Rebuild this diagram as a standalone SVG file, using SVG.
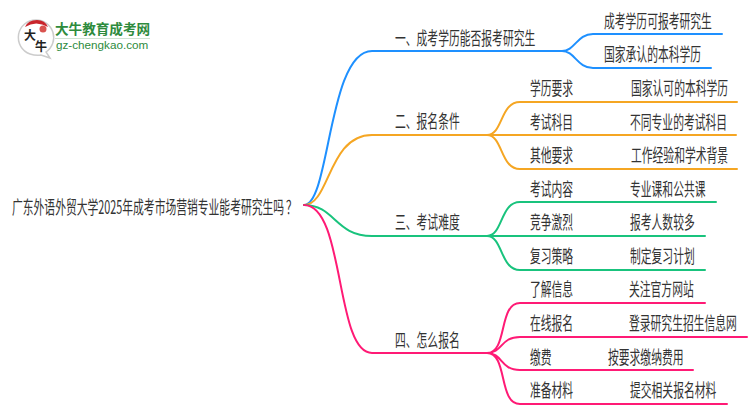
<svg xmlns="http://www.w3.org/2000/svg" width="750" height="410" viewBox="0 0 750 410">
<style>
text{font-family:"Noto Sans CJK SC","Noto Sans",sans-serif;font-size:18px;fill:#333}
.c{fill:none;stroke-width:2;stroke-linecap:round}
.b{stroke:#1e90ff}.o{stroke:#f5a623}.g{stroke:#19c37d}.p{stroke:#ff1a75}
</style>
<rect width="750" height="410" fill="#fff"/>
<g id="logo">
<path d="M36 20a17.500 17.500 0 0 0-6 34q6 2 11 1l9 3-4-6a17.500 17.500 0 0 0-10-32z" fill="#fff" stroke="#ccc" stroke-width="1.500"/>
<path d="M25 27q11-7 23 0-3-7-11-7-9 0-12 7z" fill="#c9242b"/>
<circle cx="43" cy="29" r="3.500" fill="#d9534f"/>
<text x="24" y="40" style="font-size:12px;fill:#222" font-weight="700">大</text>
<text x="35" y="51" style="font-size:12px;fill:#222" font-weight="700">牛</text>
<text x="55" y="33.500" style="font-size:13.600px;fill:#2e8b3d" font-weight="700">大牛教育成考网</text>
<path d="M55 38.500H150" stroke="#cfe3d2" stroke-width="1"/>
<text x="56" y="48.500" style="font-size:11.700px;fill:#2e8b3d;font-family:'Liberation Sans',sans-serif">gz-chengkao.com</text>
</g>
<g id="connectors">
<path class="c b" d="M304 205C330 205 328 51 372 51H562M562 51C575 51 577 34 593 34H722M562 51C575 51 577 68 593 68H711"/>
<path class="c o" d="M304 205C330 205 328 135 372 135H487M487 135C503 135 500 102 520 102H737M487 135H736M487 135C503 135 500 169 520 169H737"/>
<path class="c g" d="M304 205C335 205 335 236 372 236H487M487 236C503 236 500 202 520 202H716M487 236H705M487 236C503 236 500 270 520 270H705"/>
<path class="c p" d="M304 205C345 205 335 353 372 353H487M487 353C508 353 498 303 520 303H705M487 353C503 353 500 337 520 337H747M487 353C503 353 500 370 520 370H693M487 353C508 353 498 404 520 404H727"/>
</g>
<g id="root"><text transform="matrix(.6 0 0 1 12 214)">广东外语外贸大学2025年成考市场营销专业能考研究生吗<tspan dx="3">？</tspan></text></g>
<g id="n1"><text transform="matrix(.6 0 0 1 395 45)">一、成考学历能否报考研究生</text></g>
<g id="n1a"><text transform="matrix(.6 0 0 1 604 28)">成考学历可报考研究生</text></g>
<g id="n1b"><text transform="matrix(.6 0 0 1 604 61)">国家承认的本科学历</text></g>
<g id="n2"><text transform="matrix(.6 0 0 1 395 128)">二、报名条件</text></g>
<g id="n2a"><text transform="matrix(.6 0 0 1 530 95)">学历要求</text><text transform="matrix(.6 0 0 1 631 95)">国家认可的本科学历</text></g>
<g id="n2b"><text transform="matrix(.6 0 0 1 530 129)">考试科目</text><text transform="matrix(.6 0 0 1 630 129)">不同专业的考试科目</text></g>
<g id="n2c"><text transform="matrix(.6 0 0 1 530 162)">其他要求</text><text transform="matrix(.6 0 0 1 631 162)">工作经验和学术背景</text></g>
<g id="n3"><text transform="matrix(.6 0 0 1 395 229)">三、考试难度</text></g>
<g id="n3a"><text transform="matrix(.6 0 0 1 530 196)">考试内容</text><text transform="matrix(.6 0 0 1 630 196)">专业课和公共课</text></g>
<g id="n3b"><text transform="matrix(.6 0 0 1 530 229)">竞争激烈</text><text transform="matrix(.6 0 0 1 630 229)">报考人数较多</text></g>
<g id="n3c"><text transform="matrix(.6 0 0 1 530 263)">复习策略</text><text transform="matrix(.6 0 0 1 630 263)">制定复习计划</text></g>
<g id="n4"><text transform="matrix(.6 0 0 1 395 347)">四、怎么报名</text></g>
<g id="n4a"><text transform="matrix(.6 0 0 1 530 296)">了解信息</text><text transform="matrix(.6 0 0 1 629 296)">关注官方网站</text></g>
<g id="n4b"><text transform="matrix(.6 0 0 1 530 330)">在线报名</text><text transform="matrix(.6 0 0 1 629 330)">登录研究生招生信息网</text></g>
<g id="n4c"><text transform="matrix(.6 0 0 1 530 364)">缴费</text><text transform="matrix(.6 0 0 1 608 364)">按要求缴纳费用</text></g>
<g id="n4d"><text transform="matrix(.6 0 0 1 530 397)">准备材料</text><text transform="matrix(.6 0 0 1 630 397)">提交相关报名材料</text></g>
</svg>
